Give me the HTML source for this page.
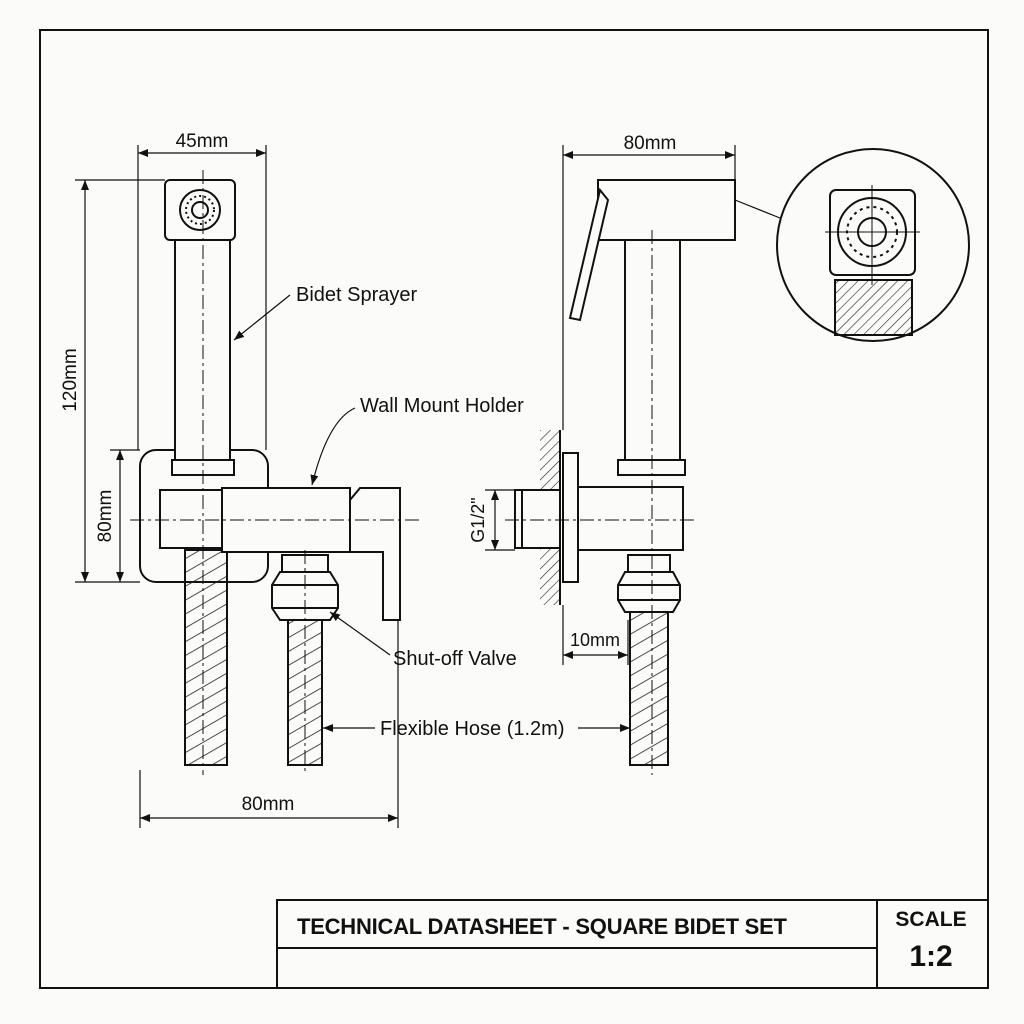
<!DOCTYPE html>
<html><head><meta charset="utf-8"><style>
html,body{margin:0;padding:0;background:#fbfbfa;}
svg{display:block}
text{font-family:"Liberation Sans",sans-serif;fill:#111}
</style></head><body>
<svg width="1024" height="1024" viewBox="0 0 1024 1024" xmlns="http://www.w3.org/2000/svg">
<defs>
<pattern id="hose" width="12" height="12" patternUnits="userSpaceOnUse" patternTransform="rotate(-30)">
<line x1="0" y1="0" x2="12" y2="0" stroke="#222" stroke-width="1.6"/></pattern>
<pattern id="hatch" width="7" height="7" patternUnits="userSpaceOnUse" patternTransform="rotate(45)">
<line x1="0" y1="0" x2="0" y2="7" stroke="#222" stroke-width="1.2"/></pattern>
<marker id="a" markerWidth="10" markerHeight="8" refX="10" refY="4" orient="auto-start-reverse" markerUnits="userSpaceOnUse">
<path d="M0,0 L10,4 L0,8 z" fill="#111"/></marker>
</defs>
<rect x="0" y="0" width="1024" height="1024" fill="#fbfbfa"/>
<g fill="none" stroke="#111" stroke-width="2">
<rect x="40" y="30" width="948" height="958"/>
<rect x="277" y="900" width="711" height="88"/>
<line x1="877" y1="900" x2="877" y2="988"/>
<line x1="277" y1="948" x2="877" y2="948"/>
</g>
<text x="297" y="934" font-size="22" font-weight="bold" textLength="490">TECHNICAL DATASHEET - SQUARE BIDET SET</text>
<text x="931" y="926" font-size="21" font-weight="bold" text-anchor="middle">SCALE</text>
<text x="931" y="966" font-size="30" font-weight="bold" text-anchor="middle">1:2</text>

<!-- LEFT VIEW -->
<g fill="none" stroke="#111" stroke-width="2">
<rect x="140" y="450" width="128" height="132" rx="16" fill="#fbfbfa"/>
<rect x="185" y="550" width="42" height="215" fill="url(#hose)"/>
<rect x="288" y="620" width="34" height="145" fill="url(#hose)"/>
<rect x="175" y="240" width="55" height="220" fill="#fbfbfa"/>
<rect x="165" y="180" width="70" height="60" rx="5" fill="#fbfbfa"/>
<circle cx="200" cy="210" r="20"/><circle cx="200" cy="210" r="14" stroke-dasharray="2 3"/><circle cx="200" cy="210" r="8"/>
<rect x="172" y="460" width="62" height="15" fill="#fbfbfa"/>
<rect x="160" y="490" width="62" height="58" fill="#fbfbfa"/>
<rect x="222" y="488" width="128" height="64" fill="#fbfbfa"/>
<path d="M350,500 L360,488 L400,488 L400,620 L383,620 L383,552 L350,552 Z" fill="#fbfbfa"/>
<rect x="282" y="555" width="46" height="17" fill="#fbfbfa"/>
<path d="M280,572 L330,572 L338,585 L338,608 L330,620 L280,620 L272,608 L272,585 Z" fill="#fbfbfa"/>
<line x1="272" y1="585" x2="338" y2="585"/><line x1="272" y1="608" x2="338" y2="608"/>
</g>
<g stroke="#111" stroke-width="1" stroke-dasharray="14 4 3 4" fill="none">
<line x1="203" y1="170" x2="203" y2="775"/>
<line x1="305" y1="550" x2="305" y2="775"/>
<line x1="130" y1="520" x2="420" y2="520"/>
</g>
<!-- left dims -->
<g stroke="#111" stroke-width="1.2" fill="none">
<line x1="138" y1="145" x2="138" y2="450"/><line x1="266" y1="145" x2="266" y2="450"/>
<line x1="138" y1="153" x2="266" y2="153" marker-start="url(#a)" marker-end="url(#a)"/>
<line x1="75" y1="180" x2="165" y2="180"/><line x1="75" y1="582" x2="140" y2="582"/>
<line x1="85" y1="180" x2="85" y2="582" marker-start="url(#a)" marker-end="url(#a)"/>
<line x1="110" y1="450" x2="140" y2="450"/>
<line x1="120" y1="450" x2="120" y2="582" marker-start="url(#a)" marker-end="url(#a)"/>
<line x1="140" y1="770" x2="140" y2="828"/><line x1="398" y1="620" x2="398" y2="828"/>
<line x1="140" y1="818" x2="398" y2="818" marker-start="url(#a)" marker-end="url(#a)"/>
<line x1="290" y1="295" x2="234" y2="340" marker-end="url(#a)"/>
<path d="M355,408 Q328,420 312,485" marker-end="url(#a)"/>
<line x1="390" y1="655" x2="330" y2="612" marker-end="url(#a)"/>
<line x1="375" y1="728" x2="323" y2="728" marker-end="url(#a)"/>
<line x1="578" y1="728" x2="630" y2="728" marker-end="url(#a)"/>
</g>
<text x="202" y="147" font-size="19" text-anchor="middle">45mm</text>
<text x="76" y="380" font-size="19" text-anchor="middle" transform="rotate(-90 76 380)">120mm</text>
<text x="111" y="516" font-size="19" text-anchor="middle" transform="rotate(-90 111 516)">80mm</text>
<text x="268" y="810" font-size="19" text-anchor="middle">80mm</text>
<text x="296" y="301" font-size="20">Bidet Sprayer</text>
<text x="360" y="412" font-size="20">Wall Mount Holder</text>
<text x="393" y="665" font-size="20">Shut-off Valve</text>
<text x="380" y="735" font-size="20">Flexible Hose (1.2m)</text>

<!-- RIGHT VIEW -->
<rect x="540" y="430" width="20" height="175" fill="url(#hatch)"/>
<g fill="none" stroke="#111" stroke-width="2">
<line x1="560" y1="430" x2="560" y2="605"/>
<rect x="630" y="612" width="38" height="153" fill="url(#hose)"/>
<rect x="625" y="240" width="55" height="220" fill="#fbfbfa"/>
<rect x="598" y="180" width="137" height="60" fill="#fbfbfa"/>
<path d="M600,190 L608,200 L580,320 L570,318 Z" fill="#fbfbfa"/>
<rect x="618" y="460" width="67" height="15" fill="#fbfbfa"/>
<rect x="563" y="453" width="15" height="129" fill="#fbfbfa"/>
<rect x="578" y="487" width="105" height="63" fill="#fbfbfa"/>
<rect x="515" y="490" width="45" height="58" fill="#fbfbfa"/>
<line x1="522" y1="490" x2="522" y2="548"/>
<rect x="628" y="555" width="42" height="17" fill="#fbfbfa"/>
<path d="M625,572 L673,572 L680,585 L680,600 L673,612 L625,612 L618,600 L618,585 Z" fill="#fbfbfa"/>
<line x1="618" y1="585" x2="680" y2="585"/><line x1="618" y1="600" x2="680" y2="600"/>
</g>
<g stroke="#111" stroke-width="1" stroke-dasharray="14 4 3 4" fill="none">
<line x1="652" y1="230" x2="652" y2="775"/>
<line x1="505" y1="520" x2="695" y2="520"/>
</g>
<g stroke="#111" stroke-width="1.2" fill="none">
<line x1="563" y1="145" x2="563" y2="430"/><line x1="735" y1="145" x2="735" y2="180"/>
<line x1="563" y1="155" x2="735" y2="155" marker-start="url(#a)" marker-end="url(#a)"/>
<line x1="485" y1="490" x2="515" y2="490"/><line x1="485" y1="550" x2="515" y2="550"/>
<line x1="495" y1="490" x2="495" y2="550" marker-start="url(#a)" marker-end="url(#a)"/>
<line x1="563" y1="605" x2="563" y2="665"/><line x1="628" y1="620" x2="628" y2="665"/>
<line x1="563" y1="655" x2="628" y2="655" marker-start="url(#a)" marker-end="url(#a)"/>
<line x1="735" y1="200" x2="780" y2="218"/>
</g>
<text x="650" y="149" font-size="19" text-anchor="middle">80mm</text>
<text x="484" y="520" font-size="18" text-anchor="middle" transform="rotate(-90 484 520)">G1/2"</text>
<text x="595" y="646" font-size="18" text-anchor="middle">10mm</text>

<!-- detail -->
<g fill="none" stroke="#111" stroke-width="2">
<circle cx="873" cy="245" r="96"/>
<rect x="835" y="280" width="77" height="55" fill="url(#hatch)"/>
<rect x="830" y="190" width="85" height="85" rx="6" fill="#fbfbfa"/>
<circle cx="872" cy="232" r="34"/><circle cx="872" cy="232" r="25" stroke-dasharray="3 4"/><circle cx="872" cy="232" r="14"/>
</g>
<g stroke="#111" stroke-width="1" fill="none">
<line x1="825" y1="232" x2="920" y2="232"/><line x1="872" y1="185" x2="872" y2="285"/>
</g>
</svg>
</body></html>
